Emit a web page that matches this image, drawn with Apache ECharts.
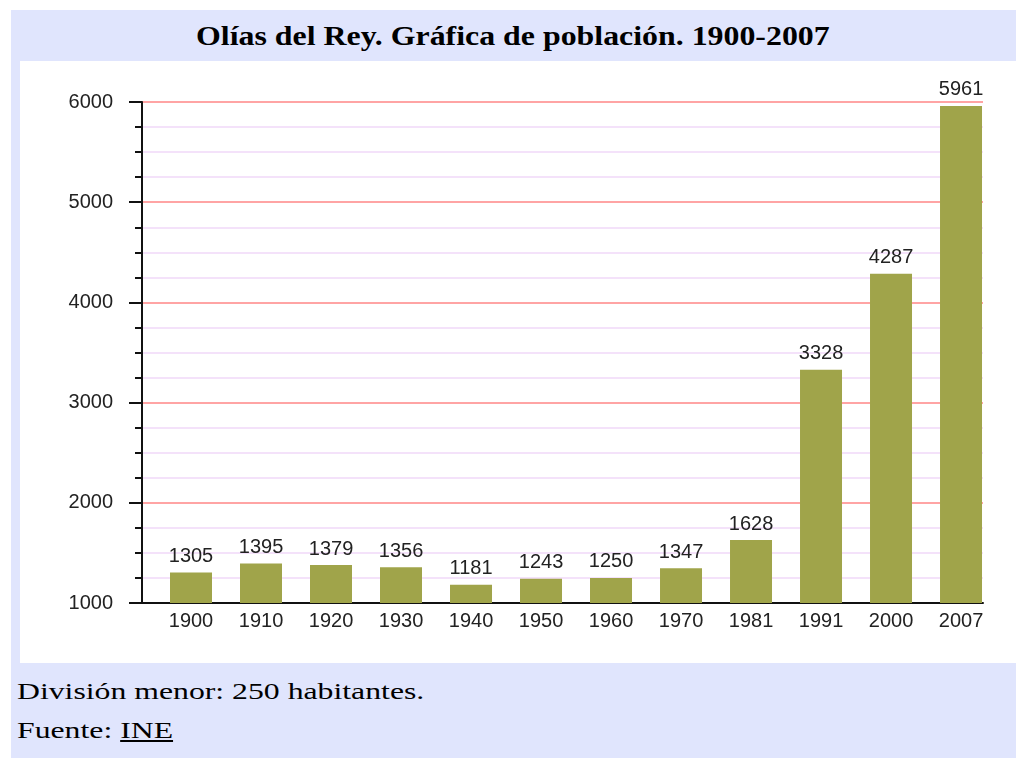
<!DOCTYPE html>
<html>
<head>
<meta charset="utf-8">
<script src="https://cdn.jsdelivr.net/npm/echarts@6/dist/echarts.min.js"></script>
<style>
  html, body { margin: 0; padding: 0; background: #fff; }
  .marco { position: absolute; left: 11px; top: 10px; width: 1005px; height: 748px; background: #e0e5fd; }
  .titulo { position: absolute; left: 0; top: 0; width: 1005px; height: 51px;
            text-align: center; font: bold 27px "Liberation Serif", "Times New Roman", serif; line-height: 53px; color: #000;
            transform: scaleX(1.18); transform-origin: 506px 0; white-space: nowrap; }
  .chart { position: absolute; left: 9px; top: 51px; width: 996px; height: 602px; background: #fff; }
  .nota { position: absolute; left: 6px; font: 23px "Liberation Serif", "Times New Roman", serif; color: #000;
          transform: scaleX(1.38); transform-origin: 0 0; white-space: nowrap; }
  .nota u { text-decoration: underline; }
</style>
</head>
<body>
<div class="marco">
  <div class="titulo">Olías del Rey. Gráfica de población. 1900-2007</div>
  <div class="chart" id="chart"></div>
  <div class="nota" style="top:669px">División menor: 250 habitantes.</div>
  <div class="nota" style="top:708px">Fuente: <u>INE</u></div>
</div>
<script>
// datos del censo
var anios = ['1900', '1910', '1920', '1930', '1940', '1950', '1960', '1970', '1981', '1991', '2000', '2007'];
var poblacion = [1305, 1395, 1379, 1356, 1181, 1243, 1250, 1347, 1628, 3328, 4287, 5961];
var posiciones = [0, 1, 2, 3, 4, 5, 6, 7, 8, 9, 10, 11];

(function() {
  var myChart = echarts.init(document.getElementById('chart'));
  var textoFuente = '"Liberation Sans", Arial, sans-serif';

  var option = {
    animation: false,
    grid: {
      left: 122,
      right: 33,
      top: 41,
      bottom: 60
    },
    // eje x como valor para desplazar las barras como en el original
    xAxis: {
      type: 'value',
      min: -0.7,
      max: 11.314,
      splitLine: { show: false },
      axisTick: { show: false },
      axisLine: {
        show: true,
        onZero: false,
        lineStyle: { color: '#111', width: 2 }
      },
      axisLabel: {
        customValues: posiciones,
        formatter: function(v) { return anios[Math.round(v)]; },
        color: '#222',
        fontSize: 20,
        fontFamily: textoFuente,
        margin: 8
      }
    },
    yAxis: {
      type: 'value',
      min: 1000,
      max: 6000,
      interval: 1000,
      axisLine: {
        show: true,
        onZero: false,
        lineStyle: { color: '#111', width: 2 }
      },
      axisTick: {
        show: true,
        length: 13,
        lineStyle: { color: '#111', width: 2 }
      },
      minorTick: {
        show: true,
        splitNumber: 4,
        length: 7,
        lineStyle: { color: '#111', width: 2 }
      },
      // líneas de división mayor (rojas) y menor (lila)
      splitLine: {
        lineStyle: { color: '#ffa4a4', width: 2 }
      },
      minorSplitLine: {
        show: true,
        lineStyle: { color: '#f4e2fa', width: 2 }
      },
      axisLabel: {
        color: '#222',
        fontSize: 20,
        fontFamily: textoFuente,
        margin: 29,
        formatter: function(v) { return String(v); }
      }
    },
    series: [
      {
        type: 'bar',
        barWidth: 42,
        data: posiciones.map(function(p, i) { return [p, poblacion[i]]; }),
        itemStyle: { color: '#a0a44a' },
        label: {
          show: true,
          position: 'top',
          distance: 6,
          color: '#222',
          fontSize: 20,
          fontFamily: textoFuente,
          formatter: function(p) { return p.value[1]; }
        }
      }
    ]
  };

  myChart.setOption(option);
})();
</script>
</body>
</html>
